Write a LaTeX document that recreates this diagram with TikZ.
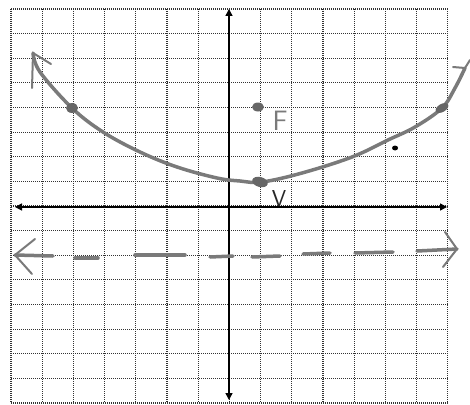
\documentclass[tikz,border=0pt]{standalone}
\usetikzlibrary{arrows.meta}
\definecolor{pencil}{HTML}{7A7A7A}
\definecolor{blob}{HTML}{666666}
\tikzset{
  gridline/.style={dash pattern=on 1pt off 1pt, line width=1.1pt, black!80},
  axisline/.style={line width=1.5pt, black, {Triangle[length=7pt,width=7pt]}-{Triangle[length=7pt,width=7pt]}},
  curveline/.style={line width=3.5pt, pencil, line cap=round, line join=round},
  dashseg/.style={line width=3.5pt, pencil, line cap=round},
  barb/.style={line width=2pt, pencil, line cap=round, line join=round},
  blobmark/.style={fill=blob, draw=none},
  lbl/.style={font=\sffamily\fontsize{23}{23}\selectfont, inner sep=0pt}
}
\begin{document}
\begin{tikzpicture}[x=1pt,y=-1pt]
\useasboundingbox (0,0) rectangle (470,404);
\fill[white] (0,0) rectangle (470,404);
% grid
\foreach \i in {0,...,14} \draw[gridline] ({11+31.2*\i},9) -- ({11+31.2*\i},403);
\foreach \j in {0,...,16} \draw[gridline] (11,{9+24.625*\j}) -- (448,{9+24.625*\j});
% axes
\coordinate (xl) at (15,207);
\coordinate (xr) at (447,207);
\coordinate (yt) at (229,9);
\coordinate (yb) at (229,400);
\draw[axisline] (xl) -- (xr);
\draw[axisline] (yt) -- (yb);
% directrix
\draw[dashseg] (15,255) -- (53,256);
\draw[dashseg] (75,258) -- (98,258);
\draw[dashseg] (135,255) -- (185,255);
\draw[dashseg] (210,257) -- (233,256);
\draw[dashseg] (252,257) -- (280,256);
\draw[dashseg] (303,254) -- (330,253);
\draw[dashseg] (355,253) -- (393,252);
\draw[dashseg] (417,251) -- (457,249);
\draw[barb] (35,239) -- (15,255) -- (32,274);
\draw[barb] (445,232) -- (457,249) -- (443,267);
% parabola
\coordinate (lt) at (33,53);
\coordinate (rt) at (465,68);
\draw[curveline] plot[smooth, tension=0.6] coordinates {(33,53) (40,72) (72,108) (103,132) (140,152) (177,167) (217,178) (240,181) (262,182) (302,173) (352,157) (388,140) (415,127) (442,108) (455,88) (465,68)};
\draw[barb] (32,88) -- (lt) -- (51,64);
\draw[barb] (453,67) -- (rt) -- (470,60);
% points
\fill[blobmark] (72,108) ellipse (6pt and 5pt);
\fill[blobmark, rotate around={-15:(260,182)}] (260,182) ellipse (8pt and 5pt);
\fill[blobmark] (258,107) ellipse (6pt and 4.5pt);
\fill[blobmark, rotate around={30:(442,108)}] (442,108) ellipse (7pt and 4pt);
\fill[black] (395,148) ellipse (3pt and 2.5pt);
% labels
\node[lbl, text=pencil, font=\sffamily\fontsize{28}{28}\selectfont] (F) at (280,121) {F};
\node[lbl, text=black!85] (V) at (279,199) {V};
\end{tikzpicture}
\end{document}
